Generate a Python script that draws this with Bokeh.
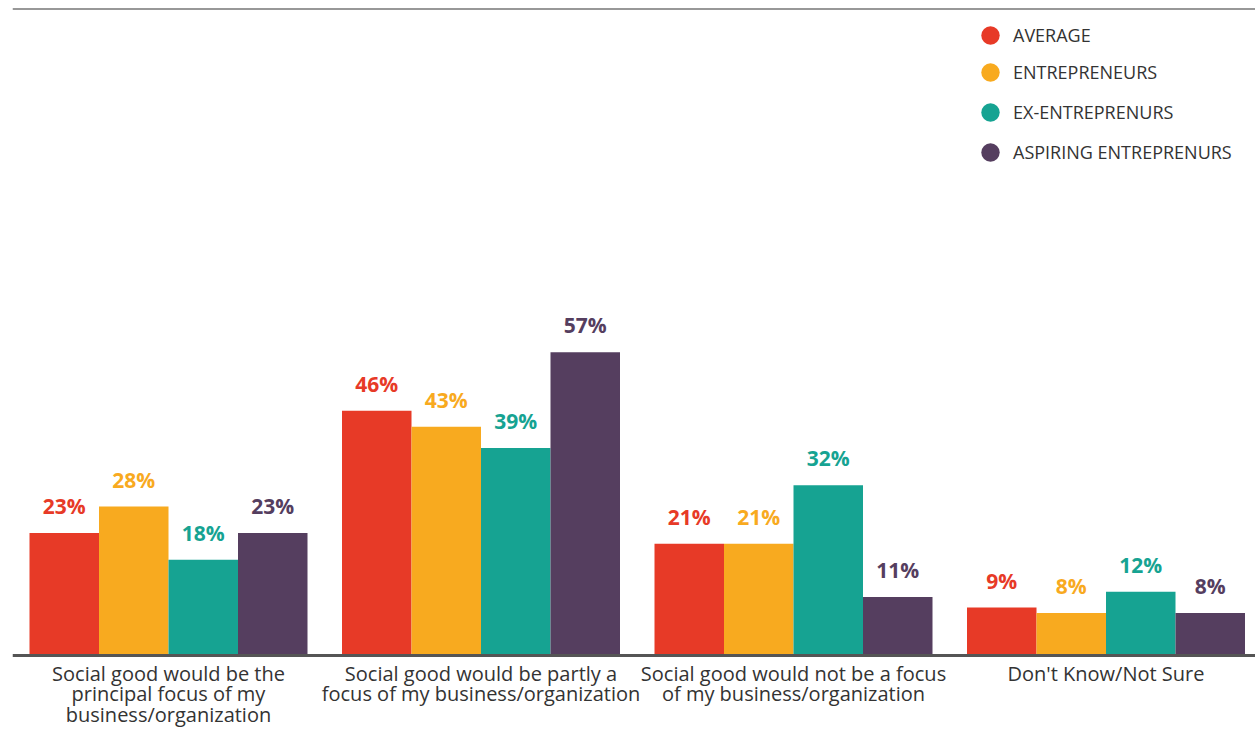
from bokeh.plotting import figure
from bokeh.models import ColumnDataSource, Range1d, Span, Legend, LegendItem, Label
from bokeh.core.properties import value
from bokeh.embed import file_html
from bokeh.resources import INLINE

categories = [
    "Social good would be the\nprincipal focus of my\nbusiness/organization",
    "Social good would be partly a\nfocus of my business/organization",
    "Social good would not be a focus\nof my business/organization",
    "Don't Know/Not Sure",
]
series_names = ["AVERAGE", "ENTREPRENEURS", "EX-ENTREPRENURS", "ASPIRING ENTREPRENURS"]
average = [23, 46, 21, 9]
entrepreneurs = [28, 43, 21, 8]
ex_entrepreneurs = [18, 39, 32, 12]
aspiring = [23, 57, 11, 8]
series_values = [average, entrepreneurs, ex_entrepreneurs, aspiring]
colors = ["#E73A27", "#F8AA1F", "#16A392", "#553E5F"]

FONT = "Open Sans"
Y_MIN, Y_MAX = -13.91, 121.6
p = figure(width=1255, height=729, output_backend="svg", toolbar_location=None,
           x_range=Range1d(-0.4992, 3.4784), y_range=Range1d(Y_MIN, Y_MAX),
           min_border_left=12, min_border_right=0, min_border_top=8, min_border_bottom=0)
p.outline_line_color = None
p.xgrid.grid_line_color = None
p.ygrid.grid_line_color = None
p.xaxis.visible = False
p.yaxis.visible = False

bar_w = 0.2224
offsets = [-1.5 * bar_w, -0.5 * bar_w, 0.5 * bar_w, 1.5 * bar_w]
idx = list(range(len(categories)))

# legend placement (screen px from frame bottom-left), one legend per entry
legend_pos = [(955, 671), (955, 634), (955, 594), (955, 554)]

for name, vals, col, off, pos in zip(series_names, series_values, colors, offsets, legend_pos):
    xs = [i + off for i in idx]
    src = ColumnDataSource(dict(x=xs, top=vals, lab=[f"{v}%" for v in vals]))
    p.vbar(x="x", top="top", bottom=0, width=bar_w, source=src, fill_color=col, line_color=None)
    p.text(x="x", y="top", text="lab", source=src, text_align="center",
           text_baseline="alphabetic", y_offset=-27, text_color=col,
           text_font=value(FONT), text_font_style="bold", text_font_size="21px")
    # legend proxy glyph, kept outside the visible range
    r = p.scatter(x=[0], y=[-1000], marker="circle", size=19, fill_color=col, line_color=None)
    lg = Legend(items=[LegendItem(label=name, renderers=[r])], location=pos,
                glyph_width=46, glyph_height=46, spacing=0, label_standoff=0,
                padding=0, margin=0, border_line_color=None, background_fill_alpha=0,
                label_text_font=FONT, label_text_font_size="18px",
                label_text_color="#333333")
    p.add_layout(lg)

# baseline (category axis line) and top rule
p.add_layout(Span(location=0, dimension="width", line_color="#555555", line_width=3))
p.add_layout(Span(location=Y_MAX, dimension="width", line_color="#333333", line_width=2))

for i, c in zip(idx, categories):
    p.add_layout(Label(x=i, x_units="data", y=70, y_units="screen", text=c,
                       text_align="center", text_baseline="top",
                       text_font=FONT, text_font_size="20px", text_line_height=0.77,
                       text_color="#333333"))

open("out.html", "w").write(file_html(p, INLINE))
